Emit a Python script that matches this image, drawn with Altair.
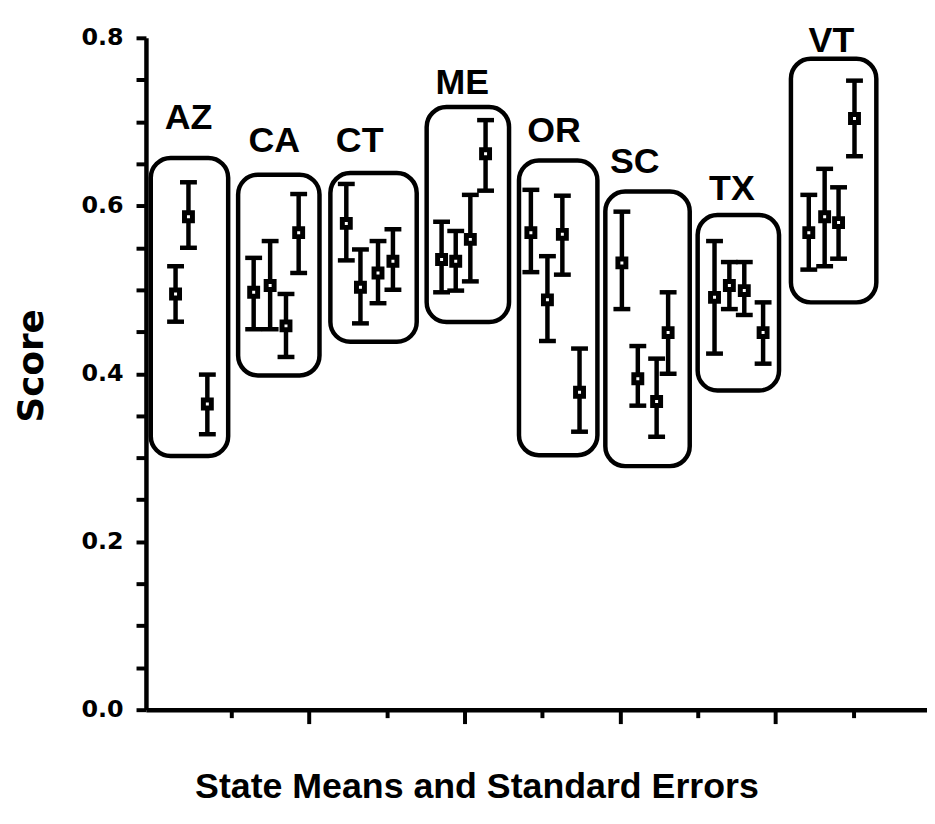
import altair as alt
import pandas as pd

# ---- data ----
point_state = ["AZ", "AZ", "AZ",
               "CA", "CA", "CA", "CA",
               "CT", "CT", "CT", "CT",
               "ME", "ME", "ME", "ME",
               "OR", "OR", "OR", "OR",
               "SC", "SC", "SC", "SC",
               "TX", "TX", "TX", "TX",
               "VT", "VT", "VT", "VT"]
point_pos = [0.281, 0.447, 0.690,
             1.286, 1.498, 1.702, 1.865,
             2.478, 2.660, 2.886, 3.078,
             3.704, 3.886, 4.074, 4.270,
             4.853, 5.066, 5.258, 5.479,
             6.024, 6.229, 6.471, 6.619,
             7.216, 7.407, 7.599, 7.841,
             8.429, 8.633, 8.812, 9.017]
point_mean = [0.495, 0.587, 0.364,
              0.497, 0.505, 0.457, 0.568,
              0.579, 0.503, 0.520, 0.534,
              0.536, 0.534, 0.560, 0.662,
              0.568, 0.488, 0.566, 0.378,
              0.532, 0.394, 0.367, 0.449,
              0.491, 0.505, 0.499, 0.449,
              0.568, 0.587, 0.580, 0.704]
point_lo = [0.462, 0.550, 0.328,
            0.453, 0.453, 0.420, 0.520,
            0.535, 0.460, 0.484, 0.500,
            0.497, 0.499, 0.510, 0.618,
            0.521, 0.439, 0.518, 0.331,
            0.477, 0.362, 0.325, 0.400,
            0.424, 0.477, 0.470, 0.412,
            0.524, 0.528, 0.537, 0.659]
point_hi = [0.528, 0.628, 0.399,
            0.538, 0.558, 0.495, 0.614,
            0.626, 0.548, 0.558, 0.572,
            0.581, 0.570, 0.613, 0.702,
            0.619, 0.540, 0.612, 0.430,
            0.593, 0.433, 0.418, 0.497,
            0.558, 0.533, 0.533, 0.485,
            0.613, 0.644, 0.622, 0.749]

states = ["AZ", "CA", "CT", "ME", "OR", "SC", "TX", "VT"]
box_left = [-0.038, 1.086, 2.273, 3.512, 4.700, 5.811, 6.999, 8.199]
box_right = [0.958, 2.133, 3.384, 4.572, 5.709, 6.897, 8.046, 9.298]
box_bottom = [0.302, 0.398, 0.438, 0.4615, 0.303, 0.290, 0.380, 0.485]
box_top = [0.657, 0.637, 0.639, 0.7175, 0.654, 0.617, 0.589, 0.775]
label_pos = [0.447, 1.552, 2.650, 3.970, 5.150, 6.190, 7.440, 8.720]
label_y = [0.704, 0.677, 0.677, 0.746, 0.689, 0.652, 0.620, 0.796]

y_ticks = [0.0, 0.05, 0.1, 0.15, 0.2, 0.25, 0.3, 0.35, 0.4,
           0.45, 0.5, 0.55, 0.6, 0.65, 0.7, 0.75, 0.8]
x_ticks = [1, 2, 3, 4, 5, 6, 7, 8, 9]

points = pd.DataFrame({"state": point_state, "pos": point_pos,
                       "mean": point_mean, "lo": point_lo, "hi": point_hi})
boxes = pd.DataFrame({"state": states, "left": box_left, "right": box_right,
                      "bottom": box_bottom, "top": box_top})
labels = pd.DataFrame({"state": states, "pos": label_pos, "y": label_y})

xscale = alt.Scale(domain=[-0.1, 9.95], nice=False, zero=False)
yscale = alt.Scale(domain=[0, 0.8], nice=False, zero=False)

x_axis = alt.Axis(
    title="State Means and Standard Errors",
    labels=False, values=x_ticks, grid=False,
    tickSize={"condition": {"test": "datum.value % 2 === 0", "value": 14}, "value": 8},
    tickWidth=4, tickColor="black",
    domainColor="black", domainWidth=4.5,
    titleFont="Liberation Sans", titleFontSize=36, titleFontWeight="bold",
    titleColor="black", titleX=333, titleY=88, titleBaseline="alphabetic",
    titleAlign="center",
)
y_axis = alt.Axis(
    title="Score", values=y_ticks, grid=False,
    labelExpr="(round(datum.value*100) % 20 == 0) ? format(datum.value, '.1f') : ''",
    tickSize=10, tickWidth=4, tickColor="black",
    domainColor="black", domainWidth=4.5,
    labelFont="DejaVu Sans", labelFontSize=24, labelFontWeight="bold",
    labelColor="black", labelPadding=13, labelBaseline="middle",
    titleFont="DejaVu Sans", titleFontSize=36, titleFontWeight="bold",
    titleColor="black", titleX=-104, titleY=330, titleBaseline="alphabetic",
    titleAlign="center", titleAngle=270,
)


def X(f):
    return alt.X(f, type="quantitative", scale=xscale, axis=x_axis)


def Y(f):
    return alt.Y(f, type="quantitative", scale=yscale, axis=y_axis)


box_layer = alt.Chart(boxes).mark_rect(
    fill="transparent", stroke="black", strokeWidth=4.5, cornerRadius=20
).encode(x=X("left"), x2="right", y=Y("bottom"), y2="top")

rule_layer = alt.Chart(points).mark_rule(
    color="black", strokeWidth=4.5, opacity=1
).encode(x=X("pos"), y=Y("lo"), y2="hi")

cap_lo = alt.Chart(points).mark_tick(
    orient="horizontal", size=17, thickness=4.5, color="black", opacity=1
).encode(x=X("pos"), y=Y("lo"))

cap_hi = alt.Chart(points).mark_tick(
    orient="horizontal", size=17, thickness=4.5, color="black", opacity=1
).encode(x=X("pos"), y=Y("hi"))

marker_layer = alt.Chart(points).mark_square(
    size=64, filled=True, fill="white", stroke="black", strokeWidth=5, opacity=1
).encode(x=X("pos"), y=Y("mean"))

label_layer = alt.Chart(labels).mark_text(
    font="Liberation Sans", fontSize=36, fontWeight="bold", color="black",
    align="center", baseline="middle"
).encode(x=X("pos"), y=Y("y"), text="state:N")

chart = alt.layer(
    box_layer, rule_layer, cap_lo, cap_hi, marker_layer, label_layer
).properties(
    width=787, height=677,
    padding={"left": 139, "top": 27, "right": 0, "bottom": 95},
    autosize=alt.AutoSizeParams(type="none"),
    background="white",
).configure_view(stroke=None)

chart.save("out.html", embed_options={"renderer": "svg", "actions": False})
